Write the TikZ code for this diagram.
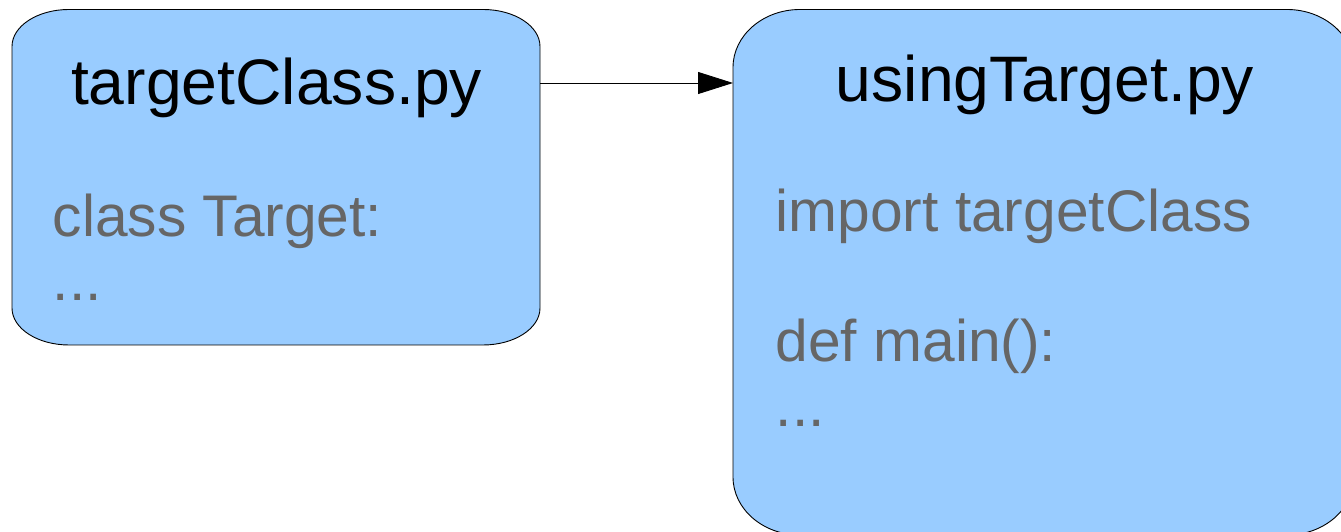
\documentclass[tikz,border=0pt]{standalone}
\usepackage{fontspec}
\setmainfont{Liberation Sans}
\usetikzlibrary{arrows.meta,calc}

\definecolor{boxfill}{HTML}{99CCFF}
\definecolor{codegray}{HTML}{666666}

% Rounded box with elliptical corners drawn over a named (invisible) node
\newcommand\ovalbox[3]{%
  \path[filebox] let \p1=(#1.south west), \p2=(#1.north east) in
    (\x1,\y1+#3) -- (\x1,\y2-#3)
    arc[start angle=180,end angle=90,x radius=#2,y radius=#3]
    -- (\x2-#2,\y2)
    arc[start angle=90,end angle=0,x radius=#2,y radius=#3]
    -- (\x2,\y1+#3)
    arc[start angle=0,end angle=-90,x radius=#2,y radius=#3]
    -- (\x1+#2,\y1)
    arc[start angle=270,end angle=180,x radius=#2,y radius=#3]
    -- cycle;}

\begin{document}
\begin{tikzpicture}[x=1pt,y=1pt,
  area/.style={inner sep=0pt,outer sep=0pt,minimum width=#1},
  filebox/.style={draw=black,line width=0.9pt,fill=boxfill},
  title/.style={anchor=base,inner sep=0pt,text=black,font=\fontsize{64.3}{68}\selectfont},
  code/.style={anchor=base west,inner sep=0pt,text=codegray,font=\fontsize{58.7}{62}\selectfont},
  link/.style={line width=0.9pt,-{Triangle[length=35pt,width=22pt]}}]
  \useasboundingbox (0,0) rectangle (1341,532);
  \clip (0,0) rectangle (1341,532);

  % invisible frames that carry the geometry of the two files
  \node[area=528,minimum height=335.5] (lbox) at (276,354.75) {};
  \node[area=621,minimum height=525.5] (rbox) at (1043.5,259.75) {};

  \ovalbox{lbox}{57}{37}
  \ovalbox{rbox}{67}{58}

  % targetClass.py
  \node[title] (ltitle) at (276.5,427) {targetClass.py};
  \node[code] (lclass) at (52.5,295) {class Target:};
  \node[code] (ldots) at (52.5,231) {...};

  % usingTarget.py
  \node[title] (rtitle) at (1045,430) {usingTarget.py};
  \node[code] (rimport) at (775.5,300) {import targetClass};
  \node[code] (rdef) at (775.5,170) {def main():};
  \node[code] (rdots) at (775.5,105) {...};

  % dependency arrow
  \coordinate (afrom) at ($(lbox.north east)+(0,-73.5)$);
  \coordinate (ato) at ($(rbox.north west)+(0,-73.5)$);
  \draw[link] (afrom) -- (ato);
\end{tikzpicture}
\end{document}
